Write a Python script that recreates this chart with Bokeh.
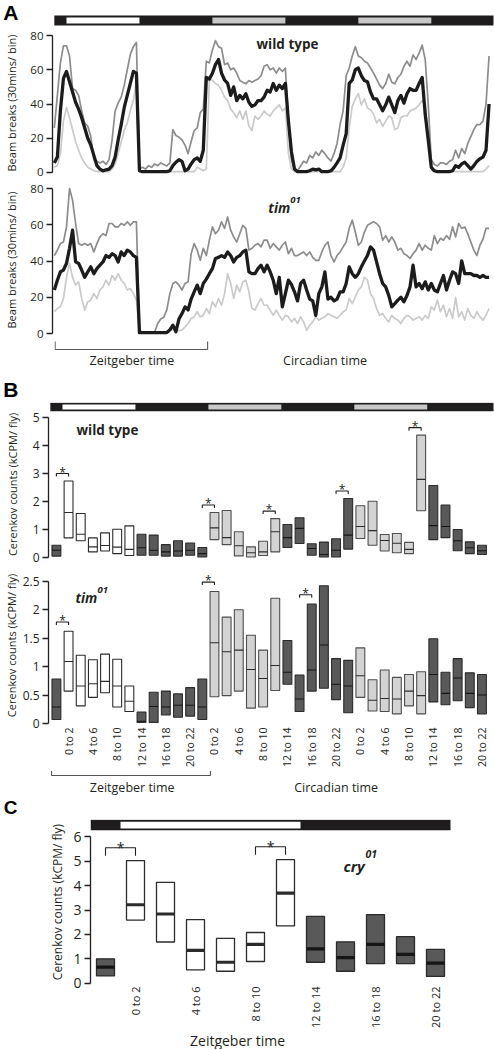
import math
from bokeh.plotting import figure
from bokeh.layouts import column
from bokeh.models import Range1d, FixedTicker, ColumnDataSource
from bokeh.core.properties import value
from bokeh.embed import file_html
from bokeh.resources import INLINE

FONT = "Open Sans"
LETTER_FONT = "Liberation Sans"
INK = "#231f20"
W = 494

# ---------------- light / dark schedule (hours) ----------------
SCHED_EDGES = [-2, 0, 12, 24, 36, 48, 60, 72]
SCHED_PHASE = ["night", "light", "night", "subjective day", "night", "subjective day", "night"]
C_SCHED_EDGES = [-2, 0, 12, 22]
C_SCHED_PHASE = ["night", "light", "night"]

# ---------------- panel A: activity, 30 min bins starting at ZT22 ----------------
A_START_HOUR = -2
A_BIN_HOURS = 0.5
WT_MEAN = [5.6, 9, 36, 55, 59, 53, 47, 41, 37, 32,
           26, 20, 16, 10, 4, 2, 1, 1.5, 2, 4,
           9, 19, 28, 38, 45, 52, 59, 58, 1, 0.5,
           0.5, 0.5, 0.5, 0.5, 0.5, 0.5, 0.5, 0.5, 1, 4,
           6, 7.5, 6.5, 1, 2, 5, 7.5, 8.5, 6.5, 13,
           55.5, 54.6, 58, 63, 66, 58, 54, 52, 45, 50,
           42, 45, 43, 46, 41, 38.6, 39.5, 42, 42, 44,
           48, 47, 52, 48, 51, 49, 52, 30, 12, 2,
           0.5, 0.5, 0.5, 0.5, 1, 2, 1.5, 2, 0.5, 0.5,
           0.5, 1, 3, 5.6, 8.5, 16, 22.6, 52, 54, 60,
           61, 56.5, 53.7, 53, 47, 43, 43, 39.5, 36, 39.5,
           44, 39.5, 35, 42, 45, 40.5, 46, 49, 48, 48,
           52, 55.5, 34, 19, 3, 1, 0.5, 0.5, 0.5, 0.5,
           0.5, 1, 4, 3, 5, 6, 4, 2, 4, 6.5,
           8, 9, 13, 40]
WT_UPPER = [26, 45, 64, 74, 74, 68, 49, 48, 45, 36,
            29, 27, 21, 7.5, 6.6, 5.6, 6.6, 4.7, 7.5, 19,
            36, 40.5, 44, 51, 60, 69, 73.5, 76, 2, 3,
            2, 4, 3, 5, 4, 5.6, 4.7, 3.8, 5.6, 25,
            21.6, 20.7, 19, 16, 11, 18, 24.5, 26, 35, 37,
            65, 64, 71.6, 77, 73.5, 72.5, 63, 64, 60, 61,
            58, 53.7, 52.7, 51.8, 53.7, 52.7, 53.7, 54.6, 56.5, 62,
            63, 60, 61, 58, 61, 59, 61, 30, 7.5, 2,
            1, 3.8, 6.6, 5.6, 10, 8.5, 12, 10, 13, 11,
            8.5, 6.6, 11, 17, 28, 36, 56.5, 61, 68, 73.5,
            68, 67, 65, 64, 61, 58, 54.6, 51, 49, 52,
            57.4, 52.7, 51.8, 55.5, 57.4, 62, 65, 62, 68.7, 66,
            69.7, 74.4, 66, 39.5, 7.5, 4.7, 3.8, 5.6, 5.6, 4.7,
            6.6, 7.5, 13, 8.5, 14, 11, 17, 21, 25, 28,
            28, 30, 40, 68]
WT_LOWER = [3, 4, 11, 30, 38, 32, 25, 18, 13, 8.5,
            5.6, 3, 2, 1, 0.5, 0.5, 0.5, 0.5, 0.5, 2,
            5, 11, 18, 24.5, 29, 36, 42, 53, 0.5, 0.5,
            0.5, 0.5, 0.5, 0.5, 0.5, 0.5, 0.5, 0.5, 0.5, 0.5,
            0.5, 0.5, 0.5, 0.5, 0.5, 0.5, 0.5, 3, 2, 1,
            2, 54.6, 53.7, 52, 51, 48, 44, 42, 37, 35,
            32, 36, 31, 36, 27, 24.5, 33, 31, 33, 36,
            34, 33, 36, 37.7, 39.5, 36, 37.7, 11, 2, 0.5,
            0.5, 0.5, 0.5, 0.5, 0.5, 0.5, 0.5, 0.5, 0.5, 0.5,
            0.5, 0.5, 0.5, 0.5, 0.5, 3, 8.5, 26, 38.6, 43,
            46, 39.5, 43, 37.7, 36.7, 34, 29, 31, 27, 30,
            33, 32, 25, 26, 32, 33, 33, 36, 36.7, 37.7,
            39.5, 42, 39.5, 19, 3.8, 0.5, 0.5, 0.5, 0.5, 0.5,
            0.5, 0.5, 0.5, 0.5, 0.5, 0.5, 0.5, 0.5, 0.5, 0.5,
            0.5, 0.5, 2, 4]
TIM_MEAN = [24, 29.4, 34, 35, 38.6, 47, 57, 39.5, 38.6, 35,
            31, 34, 36.8, 33, 35.8, 37.7, 39.5, 43, 42, 44,
            43, 39.5, 45, 43, 46, 45, 43, 42, 0.5, 0.5,
            0.5, 0.5, 0.5, 0.5, 0.5, 0.5, 0.5, 0.5, 2, 4.6,
            1, 8, 11, 14.7, 13, 19, 23, 26.7, 22, 27.6,
            30, 33, 35.8, 41.4, 42, 43, 42, 45, 43, 39.5,
            42, 43, 45, 46, 34, 33, 33, 35.8, 37.7, 34,
            37.7, 34, 29.4, 22, 31, 14.7, 22, 29.4, 27, 23,
            18, 27.6, 29.4, 24, 19, 18, 10, 22, 25.7, 34,
            19, 20, 18, 19, 23, 23, 27.6, 36.8, 33, 31,
            33, 36.8, 40, 43, 47.8, 46, 39.5, 33, 27.6, 25.7,
            21, 14.7, 16.5, 18.4, 20, 17.5, 21, 25.7, 37.7, 25.7,
            27.6, 24.8, 28.5, 24, 27.6, 24, 23, 27.6, 32, 24,
            29.4, 34, 33, 27.6, 40, 33, 33, 33, 32, 32,
            31, 32, 31, 31]
TIM_UPPER = [43, 46, 49.6, 50.5, 58.8, 80, 73.5, 60.7, 49.6, 48.7,
             49.6, 48.7, 49.6, 45, 49.6, 53.3, 55, 54, 60.7, 60.7,
             58.8, 58.8, 60.7, 59.7, 61.6, 59.7, 61.6, 61.6, 2, 0.5,
             0.5, 0.5, 0.5, 0.5, 5.5, 8, 9, 13, 22, 27.6,
             28.5, 26.7, 24, 27.6, 28.5, 44, 49.6, 46, 40.4, 47,
             43, 51.5, 58.8, 55, 57, 61.6, 58, 64.3, 57, 53.3,
             50.5, 55, 59.7, 58, 46, 47, 48.7, 49.6, 47.8, 51.5,
             51.5, 47, 49.6, 47.8, 46, 48.7, 50.5, 44, 47, 43,
             43, 44, 45, 43, 45, 42, 40.4, 40.4, 45, 48.7,
             50.5, 43, 39.5, 43, 45, 47.8, 50.5, 58, 62.5, 56,
             48.7, 50.5, 56, 59.7, 60.7, 61.6, 60.7, 58.8, 51.5, 54,
             50.5, 53.3, 50.5, 46, 47, 44, 43, 41.4, 44, 46,
             49.6, 46, 48.7, 47, 46, 54, 49.6, 52.5, 51.5, 54,
             52, 58.8, 53.3, 60.7, 58, 58.8, 55, 50.5, 46, 43,
             48.7, 52, 58, 58]
TIM_LOWER = [12, 13.8, 14.7, 19.3, 31, 38.6, 31, 26.7, 28.5, 19.3,
             12.9, 17.5, 18.4, 22, 19.3, 24, 25.7, 29.4, 26.7, 32,
             29.4, 33, 29.4, 27.6, 24, 24.8, 22, 18.4, 1, 0.5,
             0.5, 0.5, 0.5, 0.5, 0.5, 0.5, 0.5, 0.5, 2, 2,
             2, 1.5, 2, 3.7, 5.5, 8.3, 9.2, 12, 9.2, 10,
             13.8, 11, 17.5, 14.7, 19.3, 15.6, 22, 33, 27.6, 19.3,
             26.7, 23, 28.5, 29.4, 23, 13.8, 12.9, 16.5, 19.3, 15.6,
             15.6, 12.9, 10, 12.9, 10, 7.4, 10, 9.2, 6.4, 8.3,
             5.5, 9.2, 6.4, 1.8, 4.6, 6.4, 9.2, 7.4, 8.3, 9.2,
             11, 10, 9.2, 8.3, 10, 12, 12.9, 19.3, 16.5, 20.2,
             24, 25.7, 31, 29.4, 22, 19.3, 13.8, 10, 11, 8.3,
             6.4, 10, 8.3, 7.4, 5.5, 8.3, 10, 9.2, 7.4, 8.3,
             9.2, 7.4, 10, 8.3, 14.7, 12.9, 18.4, 12, 15.6, 9.2,
             13.8, 8.3, 20, 9.2, 12, 7.4, 13.8, 10, 8.3, 12,
             9.2, 7.4, 10, 13.8]

# ---------------- panel B: 2 h bins (start hour), Cerenkov counts ----------------
B_BIN_STARTS = list(range(-2, 70, 2))
B_TICK_LABELS = ["0 to 2", "4 to 6", "8 to 10", "12 to 14", "16 to 18", "20 to 22"]
WT_B_LOW = [0.05, 0.70, 0.60, 0.20, 0.23, 0.14, 0.07, 0.08, 0.08, 0.05, 0.05, 0.08,
            0.02, 0.64, 0.46, 0.06, 0.02, 0.07, 0.20, 0.36, 0.50, 0.08, 0.02, 0.02,
            0.30, 0.68, 0.44, 0.23, 0.17, 0.14, 1.67, 0.64, 0.71, 0.24, 0.14, 0.11]
WT_B_MED = [0.26, 1.61, 0.83, 0.38, 0.43, 0.37, 0.29, 0.35, 0.26, 0.20, 0.23, 0.26,
            0.14, 1.06, 0.71, 0.42, 0.17, 0.20, 0.92, 0.71, 1.04, 0.32, 0.11, 0.26,
            0.80, 1.11, 0.96, 0.61, 0.51, 0.29, 2.79, 1.14, 1.11, 0.60, 0.35, 0.24]
WT_B_HIGH = [0.44, 2.73, 1.57, 0.70, 0.88, 1.01, 1.13, 0.83, 0.80, 0.46, 0.60, 0.52,
             0.36, 1.61, 1.68, 0.92, 0.38, 0.58, 1.39, 1.18, 1.42, 0.49, 0.55, 0.67,
             2.11, 1.85, 2.01, 0.82, 0.86, 0.54, 4.37, 2.57, 1.87, 1.00, 0.56, 0.44]
WT_B_SIG = [(0, 1), (12, 13), (17, 18), (23, 24), (29, 30)]
TIM_B_LOW = [0.07, 0.57, 0.31, 0.46, 0.54, 0.29, 0.21, 0.02, 0.02, 0.15, 0.11, 0.13,
             0.07, 0.47, 0.49, 0.57, 0.27, 0.29, 0.58, 0.69, 0.21, 0.57, 0.62, 0.42,
             0.19, 0.46, 0.22, 0.21, 0.17, 0.31, 0.17, 0.38, 0.33, 0.40, 0.28, 0.17]
TIM_B_MED = [0.29, 1.09, 0.66, 0.70, 0.74, 0.66, 0.39, 0.04, 0.30, 0.29, 0.32, 0.32,
             0.29, 1.42, 1.26, 1.29, 0.95, 0.79, 1.02, 0.90, 0.43, 0.94, 1.38, 0.69,
             0.66, 0.84, 0.41, 0.44, 0.43, 0.57, 0.49, 0.86, 0.53, 0.80, 0.53, 0.50]
TIM_B_HIGH = [0.78, 1.62, 1.20, 1.12, 1.22, 1.13, 0.66, 0.20, 0.55, 0.57, 0.52, 0.63,
              0.78, 2.32, 1.87, 2.00, 1.55, 1.29, 2.20, 1.46, 0.85, 2.10, 2.42, 1.14,
              1.11, 1.33, 0.77, 0.94, 0.81, 0.86, 0.91, 1.49, 0.90, 1.14, 0.89, 0.86]
TIM_B_SIG = [(0, 1), (12, 13), (20, 21)]

# ---------------- panel C: cry01, 2 h bins ----------------
C_BIN_STARTS = list(range(-2, 22, 2))
CRY_LOW = [0.30, 2.59, 1.69, 0.55, 0.49, 0.89, 2.35, 0.86, 0.49, 0.80, 0.80, 0.28]
CRY_MED = [0.66, 3.22, 2.84, 1.35, 0.86, 1.59, 3.70, 1.41, 1.05, 1.59, 1.18, 0.82]
CRY_HIGH = [1.00, 5.03, 4.14, 2.61, 1.84, 2.08, 5.07, 2.74, 1.70, 2.81, 1.91, 1.39]
CRY_SIG = [(0, 1), (5, 6)]

# ---------------- styles ----------------
BAR_COLORS = {"night": "#1e1c1d", "light": "#ffffff", "subjective day": "#c8c8c8"}
BOX_FILL = {"night": "#595959", "light": "#ffffff", "subjective day": "#d3d3d3"}
BOX_EDGE = {"night": "#2b2b2b", "light": "#2b2b2b", "subjective day": "#4d4d4d"}
MEDIAN_COL = {"night": "#151515", "light": "#2b2b2b", "subjective day": "#2b2b2b"}


def phase_of(t, edges, phases):
    for a, b, ph in zip(edges[:-1], edges[1:], phases):
        if a <= t < b:
            return ph
    return phases[-1]


def new_fig(height, x_range, y_range, left, right, top, bottom, xaxis=False):
    p = figure(width=W, height=height, x_range=x_range, y_range=y_range,
               toolbar_location=None, output_backend="svg", title=None,
               min_border_left=left, min_border_right=right,
               min_border_top=top, min_border_bottom=bottom,
               x_axis_location="below" if xaxis else None,
               y_axis_location="left")
    try:
        p.frame_align = False
    except Exception:
        pass
    p.outline_line_color = None
    p.background_fill_color = "white"
    p.border_fill_color = "white"
    p.grid.visible = False
    return p


def txt(p, x, y, s, size, style="normal", align="left", baseline="alphabetic", x_offset=0):
    p.text(x=[x], y=[y], text=[s], text_font=value(FONT), text_font_size=size,
           text_font_style=style, text_align=align, text_baseline=baseline,
           text_color=INK, x_offset=x_offset)


def hidden_y(p, letter=None, at=None, size="20px", standoff=28):
    """left axis without line/ticks; optionally carries the panel letter as its only label"""
    ax = p.yaxis[0]
    ax.axis_line_color = None
    ax.major_tick_line_color = None
    ax.minor_tick_line_color = None
    ax.major_tick_out = 0
    ax.major_tick_in = 0
    if letter is None:
        ax.ticker = FixedTicker(ticks=[])
        ax.major_label_text_font_size = "1px"
        return
    ax.ticker = FixedTicker(ticks=[at])
    ax.major_label_overrides = {at: letter}
    ax.major_label_text_font = LETTER_FONT
    ax.major_label_text_font_size = size
    ax.major_label_text_font_style = "bold"
    ax.major_label_text_color = "black"
    ax.major_label_standoff = standoff


def style_y(p, ticks, label, label_size, tick_size, label_standoff, overrides=None):
    ax = p.yaxis[0]
    ax.ticker = FixedTicker(ticks=ticks)
    ax.bounds = (ticks[0], ticks[-1])
    ax.axis_label = label
    ax.axis_label_text_font = FONT
    ax.axis_label_text_font_size = label_size
    ax.axis_label_text_font_style = "normal"
    ax.axis_label_text_color = INK
    ax.axis_label_standoff = label_standoff
    ax.major_label_text_font = FONT
    ax.major_label_text_font_size = tick_size
    ax.major_label_text_color = INK
    ax.major_label_standoff = 3
    ax.major_tick_out = 6
    ax.major_tick_in = 0
    ax.minor_tick_line_color = None
    ax.axis_line_color = INK
    ax.major_tick_line_color = INK
    ax.axis_line_width = 1.3
    ax.major_tick_line_width = 1.3
    if overrides:
        ax.major_label_overrides = overrides


def style_x(p, ticks, labels, size, standoff):
    ax = p.xaxis[0]
    ax.ticker = FixedTicker(ticks=ticks)
    ax.major_label_overrides = {t: lab for t, lab in zip(ticks, labels)}
    ax.major_label_orientation = math.pi / 2
    ax.axis_line_color = None
    ax.major_tick_line_color = None
    ax.minor_tick_line_color = None
    ax.major_tick_out = 0
    ax.major_tick_in = 0
    ax.major_label_standoff = standoff
    ax.major_label_text_font = FONT
    ax.major_label_text_font_size = size
    ax.major_label_text_color = INK


def draw_bar(p, edges, phases, y0, y1, inset):
    p.quad(left=[edges[0]], right=[edges[-1]], bottom=[y0], top=[y1],
           fill_color=BAR_COLORS["night"], line_color=None)
    ls, rs, cs = [], [], []
    for a, b, ph in zip(edges[:-1], edges[1:], phases):
        if ph != "night":
            ls.append(a); rs.append(b); cs.append(BAR_COLORS[ph])
    p.quad(left=ls, right=rs, bottom=y0 + inset, top=y1 - inset, fill_color=cs, line_color=None)


def boxes(p, centers, low, med, high, phases, half, lw, mw):
    src = ColumnDataSource(dict(
        l=[c - half for c in centers], r=[c + half for c in centers],
        lo=low, hi=high, med=med,
        fill=[BOX_FILL[ph] for ph in phases], edge=[BOX_EDGE[ph] for ph in phases],
        mc=[MEDIAN_COL[ph] for ph in phases]))
    p.quad(left="l", right="r", bottom="lo", top="hi", fill_color="fill",
           line_color="edge", line_width=lw, source=src)
    p.segment(x0="l", x1="r", y0="med", y1="med", line_color="mc", line_width=mw, source=src)


def sig(p, centers, highs, pairs, ppu, gap, tick, star_dy, star_size):
    for i, j in pairs:
        y = max(highs[i], highs[j]) + gap / ppu
        x0, x1 = centers[i], centers[j]
        p.line([x0, x0, x1, x1], [y - tick / ppu, y, y, y - tick / ppu],
               line_color=INK, line_width=1.1)
        txt(p, (x0 + x1) / 2, y + star_dy / ppu, "*", star_size, align="center")


# ================= PANEL A =================
A_X = (-2.3, 70.23)
A_LEFT, A_RIGHT = 52, 1
a_time = [A_START_HOUR + A_BIN_HOURS * i for i in range(len(WT_MEAN))]
a_xr = Range1d(*A_X)

# letter + light/dark bar strip (page y 0..26)
stripA = new_fig(26, a_xr, Range1d(0, 26), A_LEFT, A_RIGHT, 0, 0)
hidden_y(stripA, "A", 14, "21px", 34)
draw_bar(stripA, SCHED_EDGES, SCHED_PHASE, 1, 11, 2)

pA1 = new_fig(153, a_xr, Range1d(-4.09, 85.26), A_LEFT, A_RIGHT, 0, 0)
style_y(pA1, [0, 20, 40, 60, 80], "Beam breaks (30mins/ bin)", "11px", "11.5px", 8)
pA1.line(a_time, WT_UPPER, line_color="#8c8c8c", line_width=1.7, line_join="round")
pA1.line(a_time, WT_LOWER, line_color="#cacaca", line_width=1.7, line_join="round")
pA1.line(a_time, WT_MEAN, line_color="#1c1c1c", line_width=3.3, line_join="round")
txt(pA1, 36.35, 75.3, "wild type", "13.5px", "bold", align="center")

pA2 = new_fig(161, a_xr, Range1d(-3.86, 84.97), A_LEFT, A_RIGHT, 0, 0)
style_y(pA2, [0, 20, 40, 60, 80], "Beam breaks (30mins/ bin)", "11px", "11.5px", 8)
pA2.line(a_time, TIM_UPPER, line_color="#8c8c8c", line_width=1.7, line_join="round")
pA2.line(a_time, TIM_LOWER, line_color="#cacaca", line_width=1.7, line_join="round")
pA2.line(a_time, TIM_MEAN, line_color="#1c1c1c", line_width=3.3, line_join="round")
txt(pA2, 33.2, 69.5, "tim", "13.5px", "bold italic")
txt(pA2, 33.2, 73.9, "01", "9.5px", "bold italic", x_offset=22)

# bracket + time labels of A, and letter B (page y 340..402)
pA3 = new_fig(62, a_xr, Range1d(0, 62), A_LEFT, A_RIGHT, 0, 0)
hidden_y(pA3, "B", 13, "21px", 36)
pA3.line([-2.2, -2.2, 23.0, 23.0], [61, 53, 53, 61], line_color="#555555", line_width=1.1)
txt(pA3, 10.5, 42, "Zeitgeber time", "12.5px", align="center", baseline="middle")
txt(pA3, 42.4, 42, "Circadian time", "12.5px", align="center", baseline="middle")

# ================= PANEL B =================
B_X = (-2.3, 70.9)
B_LEFT, B_RIGHT = 48, 1
b_xr = Range1d(*B_X)
b_centers = [s + 1 for s in B_BIN_STARTS]
b_phase = [phase_of(s, SCHED_EDGES, SCHED_PHASE) for s in B_BIN_STARTS]
B_HALF = 0.73

# page y 402..566
pB1 = new_fig(164, b_xr, Range1d(-0.321, 5.536), B_LEFT, B_RIGHT, 0, 0)
style_y(pB1, [0, 1, 2, 3, 4, 5], "Cerenkov counts (kCPM/ fly)", "11px", "12px", 10)
draw_bar(pB1, SCHED_EDGES, SCHED_PHASE, 5.225, 5.525, 0.057)
boxes(pB1, b_centers, WT_B_LOW, WT_B_MED, WT_B_HIGH, b_phase, B_HALF, 1.1, 1.1)
sig(pB1, b_centers, WT_B_HIGH, WT_B_SIG, 28, 7.5, 3, 1.5, "12px")
txt(pB1, 2.3, 4.57, "wild type", "13.5px", "bold")

# page y 566..770
pB2 = new_fig(204, b_xr, Range1d(-0.01724, 2.759), B_LEFT, B_RIGHT, 0, 43, xaxis=True)
style_y(pB2, [0, 0.5, 1.0, 1.5, 2.0, 2.5], "Cerenkov counts (kCPM/ fly)", "11px", "12px", 1,
        overrides={0: "0"})
style_x(pB2, b_centers[1::2], B_TICK_LABELS * 3, "10.5px", 3)
boxes(pB2, b_centers, TIM_B_LOW, TIM_B_MED, TIM_B_HIGH, b_phase, B_HALF, 1.1, 1.1)
sig(pB2, b_centers, TIM_B_HIGH, TIM_B_SIG, 58, 9.5, 3, 1.5, "12px")
txt(pB2, 2.14, 2.21, "tim", "13.5px", "bold italic")
txt(pB2, 2.14, 2.34, "01", "9.5px", "bold italic", x_offset=22)

# bracket + time labels of B, and letter C (page y 770..819)
pB3 = new_fig(49, b_xr, Range1d(0, 49), B_LEFT, B_RIGHT, 0, 0)
hidden_y(pB3, "C", 12, "19px", 33)
zt_l = b_centers[0] - B_HALF - 0.4
zt_r = b_centers[12] + B_HALF + 0.4
pB3.line([zt_l, zt_l, zt_r, zt_r], [48.5, 44, 44, 48.5], line_color="#555555", line_width=1.1)
txt(pB3, 11.2, 32, "Zeitgeber time", "12.5px", align="center", baseline="middle")
txt(pB3, 44.9, 32, "Circadian time", "12.5px", align="center", baseline="middle")

# ================= PANEL C =================
C_X = (-2.0, 23.867)
C_LEFT, C_RIGHT = 90, 16
c_xr = Range1d(*C_X)
c_centers = [s + 1 for s in C_BIN_STARTS]
c_phase = [phase_of(s, C_SCHED_EDGES, C_SCHED_PHASE) for s in C_BIN_STARTS]

pC = new_fig(211, c_xr, Range1d(-0.053, 6.717), C_LEFT, C_RIGHT, 0, 44, xaxis=True)
style_y(pC, [0, 1, 2, 3, 4, 5, 6], "Cerenkov counts (kCPM/ fly)", "12px", "14px", 4)
style_x(pC, c_centers[1::2], B_TICK_LABELS, "11px", 2)
draw_bar(pC, C_SCHED_EDGES, C_SCHED_PHASE, 6.271, 6.705, 0.081)
boxes(pC, c_centers, CRY_LOW, CRY_MED, CRY_HIGH, c_phase, 0.6, 1.3, 3.2)
sig(pC, c_centers, CRY_HIGH, CRY_SIG, 24.67, 13, 8, 0, "14px")
txt(pC, 14.87, 4.81, "cry", "15px", "bold italic")
txt(pC, 14.87, 5.3, "01", "10.5px", "bold italic", x_offset=22)

pC2 = new_fig(19, c_xr, Range1d(0, 19), C_LEFT, C_RIGHT, 0, 0)
hidden_y(pC2)
txt(pC2, 7.8, 9.5, "Zeitgeber time", "14px", align="center", baseline="middle")

layout = column(stripA, pA1, pA2, pA3, pB1, pB2, pB3, pC, pC2, spacing=0)
open("out.html", "w").write(file_html(layout, INLINE))
